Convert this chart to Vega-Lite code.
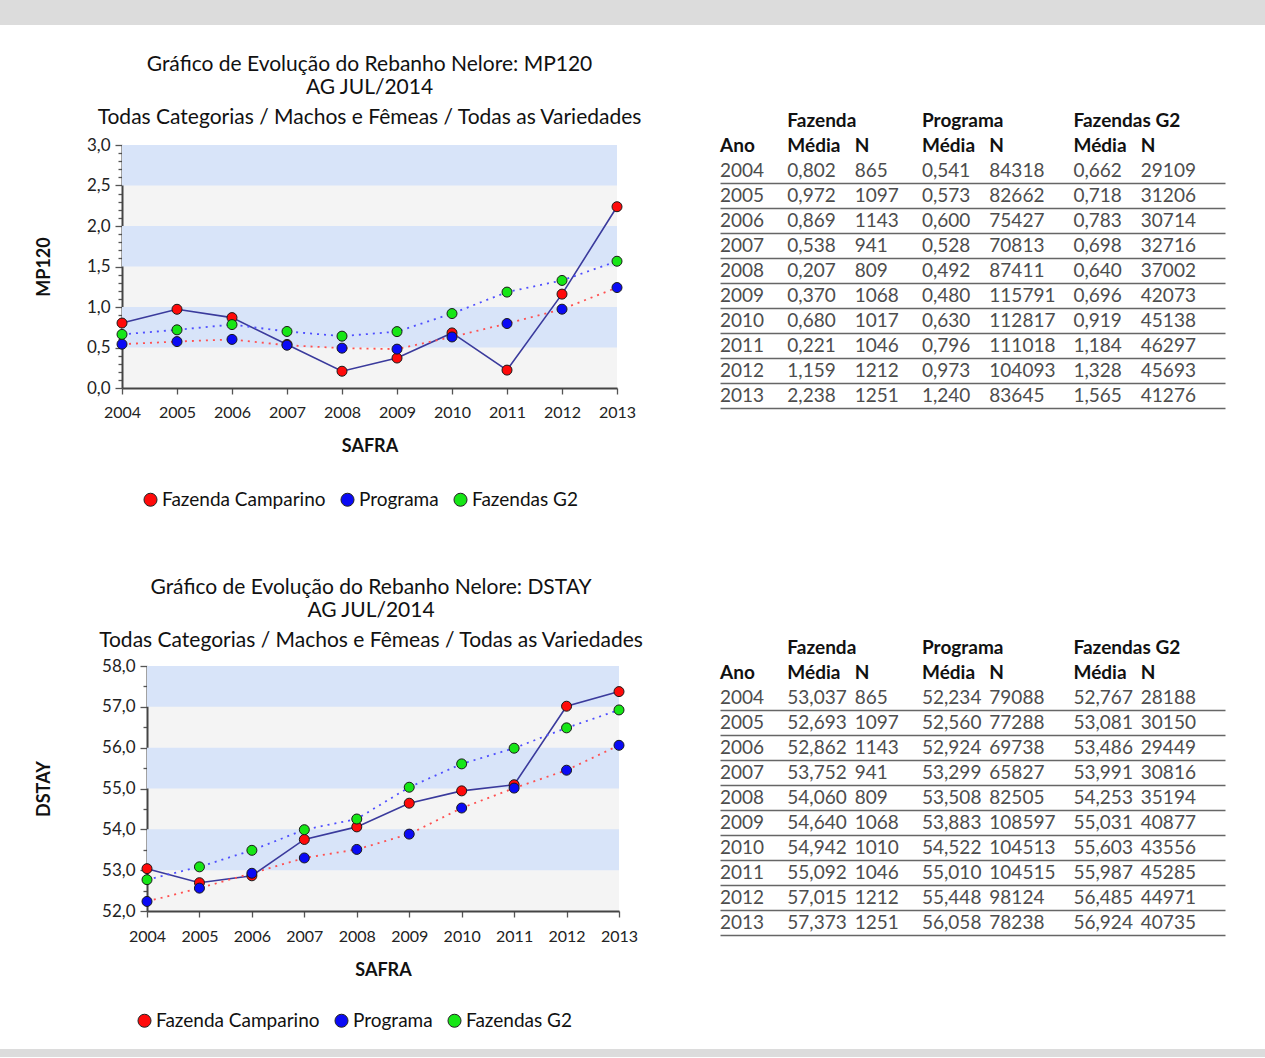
{
  "$schema": "https://vega.github.io/schema/vega-lite/v6.json",
  "padding": 0,
  "background": "white",
  "config": {
    "locale": {"number": {"decimal": ",", "thousands": ".", "grouping": [3], "currency": ["R$ ", ""]}},
    "font": "Lato",
    "view": {"stroke": null}
  },
  "datasets": {
    "mp120": [
      {"ano": "2004", "serie": "Fazenda Camparino", "media": 0.802, "n": 865},
      {"ano": "2004", "serie": "Programa", "media": 0.541, "n": 84318},
      {"ano": "2004", "serie": "Fazendas G2", "media": 0.662, "n": 29109},
      {"ano": "2005", "serie": "Fazenda Camparino", "media": 0.972, "n": 1097},
      {"ano": "2005", "serie": "Programa", "media": 0.573, "n": 82662},
      {"ano": "2005", "serie": "Fazendas G2", "media": 0.718, "n": 31206},
      {"ano": "2006", "serie": "Fazenda Camparino", "media": 0.869, "n": 1143},
      {"ano": "2006", "serie": "Programa", "media": 0.600, "n": 75427},
      {"ano": "2006", "serie": "Fazendas G2", "media": 0.783, "n": 30714},
      {"ano": "2007", "serie": "Fazenda Camparino", "media": 0.538, "n": 941},
      {"ano": "2007", "serie": "Programa", "media": 0.528, "n": 70813},
      {"ano": "2007", "serie": "Fazendas G2", "media": 0.698, "n": 32716},
      {"ano": "2008", "serie": "Fazenda Camparino", "media": 0.207, "n": 809},
      {"ano": "2008", "serie": "Programa", "media": 0.492, "n": 87411},
      {"ano": "2008", "serie": "Fazendas G2", "media": 0.640, "n": 37002},
      {"ano": "2009", "serie": "Fazenda Camparino", "media": 0.370, "n": 1068},
      {"ano": "2009", "serie": "Programa", "media": 0.480, "n": 115791},
      {"ano": "2009", "serie": "Fazendas G2", "media": 0.696, "n": 42073},
      {"ano": "2010", "serie": "Fazenda Camparino", "media": 0.680, "n": 1017},
      {"ano": "2010", "serie": "Programa", "media": 0.630, "n": 112817},
      {"ano": "2010", "serie": "Fazendas G2", "media": 0.919, "n": 45138},
      {"ano": "2011", "serie": "Fazenda Camparino", "media": 0.221, "n": 1046},
      {"ano": "2011", "serie": "Programa", "media": 0.796, "n": 111018},
      {"ano": "2011", "serie": "Fazendas G2", "media": 1.184, "n": 46297},
      {"ano": "2012", "serie": "Fazenda Camparino", "media": 1.159, "n": 1212},
      {"ano": "2012", "serie": "Programa", "media": 0.973, "n": 104093},
      {"ano": "2012", "serie": "Fazendas G2", "media": 1.328, "n": 45693},
      {"ano": "2013", "serie": "Fazenda Camparino", "media": 2.238, "n": 1251},
      {"ano": "2013", "serie": "Programa", "media": 1.240, "n": 83645},
      {"ano": "2013", "serie": "Fazendas G2", "media": 1.565, "n": 41276}
    ],
    "dstay": [
      {"ano": "2004", "serie": "Fazenda Camparino", "media": 53.037, "n": 865},
      {"ano": "2004", "serie": "Programa", "media": 52.234, "n": 79088},
      {"ano": "2004", "serie": "Fazendas G2", "media": 52.767, "n": 28188},
      {"ano": "2005", "serie": "Fazenda Camparino", "media": 52.693, "n": 1097},
      {"ano": "2005", "serie": "Programa", "media": 52.560, "n": 77288},
      {"ano": "2005", "serie": "Fazendas G2", "media": 53.081, "n": 30150},
      {"ano": "2006", "serie": "Fazenda Camparino", "media": 52.862, "n": 1143},
      {"ano": "2006", "serie": "Programa", "media": 52.924, "n": 69738},
      {"ano": "2006", "serie": "Fazendas G2", "media": 53.486, "n": 29449},
      {"ano": "2007", "serie": "Fazenda Camparino", "media": 53.752, "n": 941},
      {"ano": "2007", "serie": "Programa", "media": 53.299, "n": 65827},
      {"ano": "2007", "serie": "Fazendas G2", "media": 53.991, "n": 30816},
      {"ano": "2008", "serie": "Fazenda Camparino", "media": 54.060, "n": 809},
      {"ano": "2008", "serie": "Programa", "media": 53.508, "n": 82505},
      {"ano": "2008", "serie": "Fazendas G2", "media": 54.253, "n": 35194},
      {"ano": "2009", "serie": "Fazenda Camparino", "media": 54.640, "n": 1068},
      {"ano": "2009", "serie": "Programa", "media": 53.883, "n": 108597},
      {"ano": "2009", "serie": "Fazendas G2", "media": 55.031, "n": 40877},
      {"ano": "2010", "serie": "Fazenda Camparino", "media": 54.942, "n": 1010},
      {"ano": "2010", "serie": "Programa", "media": 54.522, "n": 104513},
      {"ano": "2010", "serie": "Fazendas G2", "media": 55.603, "n": 43556},
      {"ano": "2011", "serie": "Fazenda Camparino", "media": 55.092, "n": 1046},
      {"ano": "2011", "serie": "Programa", "media": 55.010, "n": 104515},
      {"ano": "2011", "serie": "Fazendas G2", "media": 55.987, "n": 45285},
      {"ano": "2012", "serie": "Fazenda Camparino", "media": 57.015, "n": 1212},
      {"ano": "2012", "serie": "Programa", "media": 55.448, "n": 98124},
      {"ano": "2012", "serie": "Fazendas G2", "media": 56.485, "n": 44971},
      {"ano": "2013", "serie": "Fazenda Camparino", "media": 57.373, "n": 1251},
      {"ano": "2013", "serie": "Programa", "media": 56.058, "n": 78238},
      {"ano": "2013", "serie": "Fazendas G2", "media": 56.924, "n": 40735}
    ],
    "bands_mp120": [{"lo": 0.5, "hi": 1.0}, {"lo": 1.5, "hi": 2.0}, {"lo": 2.5, "hi": 3.0}],
    "bands_dstay": [{"lo": 53, "hi": 54}, {"lo": 55, "hi": 56}, {"lo": 57, "hi": 58}],
    "hdr": [
      {"linha": "h1", "col": "fm", "label": "Fazenda"},
      {"linha": "h1", "col": "pm", "label": "Programa"},
      {"linha": "h1", "col": "gm", "label": "Fazendas G2"},
      {"linha": "h2", "col": "ano", "label": "Ano"},
      {"linha": "h2", "col": "fm", "label": "Média"},
      {"linha": "h2", "col": "fn", "label": "N"},
      {"linha": "h2", "col": "pm", "label": "Média"},
      {"linha": "h2", "col": "pn", "label": "N"},
      {"linha": "h2", "col": "gm", "label": "Média"},
      {"linha": "h2", "col": "gn", "label": "N"}
    ]
  },
  "resolve": {"scale": {"fill": "independent"}, "legend": {"fill": "independent"}},
  "spacing": 29,
  "vconcat": [
    {"width": 1265, "height": 25, "data": {"values": []}, "mark": "point", "view": {"fill": "#dcdcdc", "stroke": null}},
    {
      "spacing": 18,
      "resolve": {"scale": {"fill": "independent"}, "legend": {"fill": "independent"}},
      "vconcat": [
        {
          "spacing": 67,
          "resolve": {"scale": {"fill": "independent"}, "legend": {"fill": "independent"}},
          "vconcat": [
            {
              "spacing": 0,
              "resolve": {"scale": {"fill": "independent"}, "legend": {"fill": "independent"}},
              "hconcat": [
                {"width": 35, "height": 5, "data": {"values": []}, "mark": "point"},
                {
                  "spacing": 77,
                  "resolve": {"scale": {"fill": "independent"}, "legend": {"fill": "independent"}},
                  "hconcat": [
                    {
                      "width": 495,
                      "height": 243,
                      "view": {"fill": "#f4f4f4", "stroke": null},
                      "title": {
                        "text": ["Gráfico de Evolução do Rebanho Nelore: MP120", "AG JUL/2014"],
                        "subtitle": "Todas Categorias / Machos e Fêmeas / Todas as Variedades",
                        "anchor": "middle", "frame": "group",
                        "font": "Lato", "fontSize": 21, "fontWeight": "normal", "color": "#111", "lineHeight": 23,
                        "subtitleFont": "Lato", "subtitleFontSize": 21, "subtitleColor": "#111", "subtitlePadding": 9,
                        "offset": 8
                      },
                      "layer": [
                        {
                          "data": {"name": "bands_mp120"},
                          "mark": {"type": "rect", "color": "#d8e4f9"},
                          "encoding": {
                            "y": {
                              "field": "lo", "type": "quantitative", "title": "MP120",
                              "scale": {"domain": [0, 3], "nice": false, "zero": false},
                              "axis": {
                                "values": [0,0.1,0.2,0.3,0.4,0.5,0.6,0.7,0.8,0.9,1,1.1,1.2,1.3,1.4,1.5,1.6,1.7,1.8,1.9,2,2.1,2.2,2.3,2.4,2.5,2.6,2.7,2.8,2.9,3],
                                "tickCount": 100,
                                "format": ".1f",
                                "labelExpr": "abs(datum.value*2 - round(datum.value*2)) < 0.001 ? datum.label : ''",
                                "tickSize": {"condition": {"test": "abs(datum.value*2 - round(datum.value*2)) < 0.001", "value": 7}, "value": 4},
                                "labelOverlap": false, "grid": false,
                                "domainColor": "#444", "domainWidth": 2, "tickColor": "#555", "tickWidth": 1.3,
                                "labelFont": "Lato", "labelFontSize": 17, "labelColor": "#222", "labelPadding": 5,
                                "titleFont": "Lato", "titleFontSize": 18, "titleFontWeight": "bold", "titleColor": "#111", "titlePadding": 33
                              }
                            },
                            "y2": {"field": "hi"}
                          }
                        },
                        {
                          "data": {"name": "mp120"},
                          "transform": [{"filter": "datum.serie === 'Fazenda Camparino'"}],
                          "mark": {"type": "line", "stroke": "#3a3a9c", "strokeWidth": 1.6},
                          "encoding": {
                            "x": {
                              "field": "ano", "type": "ordinal", "title": "SAFRA",
                              "scale": {"type": "point", "padding": 0},
                              "axis": {
                                "labelAngle": 0, "domainColor": "#444", "domainWidth": 2, "tickColor": "#555", "tickWidth": 1.3, "tickSize": 6,
                                "labelFont": "Lato", "labelFontSize": 16, "labelColor": "#222", "labelPadding": 10,
                                "titleFont": "Lato", "titleFontSize": 18, "titleFontWeight": "bold", "titleColor": "#111", "titlePadding": 17
                              }
                            },
                            "y": {"field": "media", "type": "quantitative", "title": "MP120", "scale": {"domain": [0, 3], "nice": false, "zero": false}}
                          }
                        },
                        {
                          "data": {"name": "mp120"},
                          "transform": [{"filter": "datum.serie === 'Programa'"}],
                          "mark": {"type": "line", "stroke": "#ff5050", "strokeWidth": 1.8, "strokeDash": [2, 5]},
                          "encoding": {
                            "x": {"field": "ano", "type": "ordinal", "title": "SAFRA", "scale": {"type": "point", "padding": 0}},
                            "y": {"field": "media", "type": "quantitative", "title": "MP120", "scale": {"domain": [0, 3], "nice": false, "zero": false}}
                          }
                        },
                        {
                          "data": {"name": "mp120"},
                          "transform": [{"filter": "datum.serie === 'Fazendas G2'"}],
                          "mark": {"type": "line", "stroke": "#4f4fff", "strokeWidth": 1.8, "strokeDash": [2, 5]},
                          "encoding": {
                            "x": {"field": "ano", "type": "ordinal", "title": "SAFRA", "scale": {"type": "point", "padding": 0}},
                            "y": {"field": "media", "type": "quantitative", "title": "MP120", "scale": {"domain": [0, 3], "nice": false, "zero": false}}
                          }
                        },
                        {
                          "data": {"name": "mp120"},
                          "mark": {"type": "point", "filled": true, "size": 100, "opacity": 1, "stroke": "#1a1a1a", "strokeWidth": 1},
                          "encoding": {
                            "x": {"field": "ano", "type": "ordinal", "title": "SAFRA", "scale": {"type": "point", "padding": 0}},
                            "y": {"field": "media", "type": "quantitative", "title": "MP120", "scale": {"domain": [0, 3], "nice": false, "zero": false}},
                            "fill": {
                              "field": "serie", "type": "nominal",
                              "scale": {"domain": ["Fazenda Camparino", "Programa", "Fazendas G2"], "range": ["#ff0a0a", "#0a0af5", "#16e616"]},
                              "legend": {
                                "orient": "none", "legendX": 19, "legendY": 345, "direction": "horizontal", "title": null, "padding": 0,
                                "labelFont": "Lato", "labelFontSize": 19, "labelColor": "#111", "labelLimit": 400,
                                "symbolType": "circle", "symbolSize": 170, "symbolStrokeColor": "#222", "symbolStrokeWidth": 1, "symbolOpacity": 1,
                                "labelOffset": 2, "columnPadding": 12
                              }
                            }
                          }
                        }
                      ]
                    },
                    {
                      "width": 505,
                      "height": 277,
                      "data": {"name": "mp120"},
                      "encoding": {
                        "y": {
                          "field": "ano", "type": "ordinal",
                          "scale": {"type": "band", "domain": ["2004", "2005", "2006", "2007", "2008", "2009", "2010", "2011", "2012", "2013"], "paddingInner": 0, "paddingOuter": 0.54},
                          "axis": {"grid": true, "bandPosition": 1, "labels": false, "ticks": false, "domain": false, "title": null, "gridColor": "#666", "gridWidth": 1.3}
                        }
                      },
                      "layer": [
                        {
                          "transform": [{"filter": "datum.serie === 'Fazenda Camparino'"}],
                          "mark": {"type": "text", "align": "left", "baseline": "middle", "font": "Lato", "fontSize": 19, "color": "#4d4d4d"},
                          "encoding": {
                            "x": {"datum": "ano", "type": "nominal", "axis": null, "scale": {"type": "point", "padding": 0, "domain": ["ano","1","2","3","fm","5","6","7","fn","9","10","11","pm","13","14","15","pn","17","18","19","20","gm","22","23","24","gn","26","27","28","29","30"]}},
                            "text": {"field": "ano", "type": "nominal"}
                          }
                        },
                        {
                          "transform": [{"filter": "datum.serie === 'Fazenda Camparino'"}],
                          "mark": {"type": "text", "align": "left", "baseline": "middle", "font": "Lato", "fontSize": 19, "color": "#4d4d4d"},
                          "encoding": {
                            "x": {"datum": "fm", "type": "nominal", "axis": null, "scale": {"type": "point", "padding": 0, "domain": ["ano","1","2","3","fm","5","6","7","fn","9","10","11","pm","13","14","15","pn","17","18","19","20","gm","22","23","24","gn","26","27","28","29","30"]}},
                            "text": {"field": "media", "type": "quantitative", "format": ".3f"}
                          }
                        },
                        {
                          "transform": [{"filter": "datum.serie === 'Fazenda Camparino'"}],
                          "mark": {"type": "text", "align": "left", "baseline": "middle", "font": "Lato", "fontSize": 19, "color": "#4d4d4d"},
                          "encoding": {
                            "x": {"datum": "fn", "type": "nominal", "axis": null, "scale": {"type": "point", "padding": 0, "domain": ["ano","1","2","3","fm","5","6","7","fn","9","10","11","pm","13","14","15","pn","17","18","19","20","gm","22","23","24","gn","26","27","28","29","30"]}},
                            "text": {"field": "n", "type": "quantitative", "format": "d"}
                          }
                        },
                        {
                          "transform": [{"filter": "datum.serie === 'Programa'"}],
                          "mark": {"type": "text", "align": "left", "baseline": "middle", "font": "Lato", "fontSize": 19, "color": "#4d4d4d"},
                          "encoding": {
                            "x": {"datum": "pm", "type": "nominal", "axis": null, "scale": {"type": "point", "padding": 0, "domain": ["ano","1","2","3","fm","5","6","7","fn","9","10","11","pm","13","14","15","pn","17","18","19","20","gm","22","23","24","gn","26","27","28","29","30"]}},
                            "text": {"field": "media", "type": "quantitative", "format": ".3f"}
                          }
                        },
                        {
                          "transform": [{"filter": "datum.serie === 'Programa'"}],
                          "mark": {"type": "text", "align": "left", "baseline": "middle", "font": "Lato", "fontSize": 19, "color": "#4d4d4d"},
                          "encoding": {
                            "x": {"datum": "pn", "type": "nominal", "axis": null, "scale": {"type": "point", "padding": 0, "domain": ["ano","1","2","3","fm","5","6","7","fn","9","10","11","pm","13","14","15","pn","17","18","19","20","gm","22","23","24","gn","26","27","28","29","30"]}},
                            "text": {"field": "n", "type": "quantitative", "format": "d"}
                          }
                        },
                        {
                          "transform": [{"filter": "datum.serie === 'Fazendas G2'"}],
                          "mark": {"type": "text", "align": "left", "baseline": "middle", "font": "Lato", "fontSize": 19, "color": "#4d4d4d"},
                          "encoding": {
                            "x": {"datum": "gm", "type": "nominal", "axis": null, "scale": {"type": "point", "padding": 0, "domain": ["ano","1","2","3","fm","5","6","7","fn","9","10","11","pm","13","14","15","pn","17","18","19","20","gm","22","23","24","gn","26","27","28","29","30"]}},
                            "text": {"field": "media", "type": "quantitative", "format": ".3f"}
                          }
                        },
                        {
                          "transform": [{"filter": "datum.serie === 'Fazendas G2'"}],
                          "mark": {"type": "text", "align": "left", "baseline": "middle", "font": "Lato", "fontSize": 19, "color": "#4d4d4d"},
                          "encoding": {
                            "x": {"datum": "gn", "type": "nominal", "axis": null, "scale": {"type": "point", "padding": 0, "domain": ["ano","1","2","3","fm","5","6","7","fn","9","10","11","pm","13","14","15","pn","17","18","19","20","gm","22","23","24","gn","26","27","28","29","30"]}},
                            "text": {"field": "n", "type": "quantitative", "format": "d"}
                          }
                        },
                        {
                          "data": {"name": "hdr"},
                          "transform": [{"filter": "datum.linha === 'h1'"}],
                          "mark": {"type": "text", "align": "left", "baseline": "middle", "font": "Lato", "fontSize": 19, "fontWeight": "bold", "color": "#111", "dy": -50},
                          "encoding": {
                            "x": {"field": "col", "type": "nominal", "axis": null, "scale": {"type": "point", "padding": 0, "domain": ["ano","1","2","3","fm","5","6","7","fn","9","10","11","pm","13","14","15","pn","17","18","19","20","gm","22","23","24","gn","26","27","28","29","30"]}},
                            "y": {"datum": "2004", "type": "ordinal", "scale": {"type": "band", "domain": ["2004", "2005", "2006", "2007", "2008", "2009", "2010", "2011", "2012", "2013"], "paddingInner": 0, "paddingOuter": 0.54}, "axis": {"grid": true, "bandPosition": 1, "labels": false, "ticks": false, "domain": false, "title": null, "gridColor": "#666", "gridWidth": 1.3}},
                            "text": {"field": "label", "type": "nominal"}
                          }
                        },
                        {
                          "data": {"name": "hdr"},
                          "transform": [{"filter": "datum.linha === 'h2'"}],
                          "mark": {"type": "text", "align": "left", "baseline": "middle", "font": "Lato", "fontSize": 19, "fontWeight": "bold", "color": "#111", "dy": -25},
                          "encoding": {
                            "x": {"field": "col", "type": "nominal", "axis": null, "scale": {"type": "point", "padding": 0, "domain": ["ano","1","2","3","fm","5","6","7","fn","9","10","11","pm","13","14","15","pn","17","18","19","20","gm","22","23","24","gn","26","27","28","29","30"]}},
                            "y": {"datum": "2004", "type": "ordinal", "scale": {"type": "band", "domain": ["2004", "2005", "2006", "2007", "2008", "2009", "2010", "2011", "2012", "2013"], "paddingInner": 0, "paddingOuter": 0.54}, "axis": {"grid": true, "bandPosition": 1, "labels": false, "ticks": false, "domain": false, "title": null, "gridColor": "#666", "gridWidth": 1.3}},
                            "text": {"field": "label", "type": "nominal"}
                          }
                        }
                      ]
                    }
                  ]
                }
              ]
            },
            {
              "spacing": 0,
              "resolve": {"scale": {"fill": "independent"}, "legend": {"fill": "independent"}},
              "hconcat": [
                {"width": 35, "height": 5, "data": {"values": []}, "mark": "point"},
                {
                  "spacing": 76,
                  "resolve": {"scale": {"fill": "independent"}, "legend": {"fill": "independent"}},
                  "hconcat": [
                    {
                      "width": 472,
                      "height": 245,
                      "view": {"fill": "#f4f4f4", "stroke": null},
                      "title": {
                        "text": ["Gráfico de Evolução do Rebanho Nelore: DSTAY", "AG JUL/2014"],
                        "subtitle": "Todas Categorias / Machos e Fêmeas / Todas as Variedades",
                        "anchor": "middle", "frame": "group", "dx": -12,
                        "font": "Lato", "fontSize": 21, "fontWeight": "normal", "color": "#111", "lineHeight": 23,
                        "subtitleFont": "Lato", "subtitleFontSize": 21, "subtitleColor": "#111", "subtitlePadding": 9,
                        "offset": 6
                      },
                      "layer": [
                        {
                          "data": {"name": "bands_dstay"},
                          "mark": {"type": "rect", "color": "#d8e4f9"},
                          "encoding": {
                            "y": {
                              "field": "lo", "type": "quantitative", "title": "DSTAY",
                              "scale": {"domain": [52, 58], "nice": false, "zero": false},
                              "axis": {
                                "values": [52,52.5,53,53.5,54,54.5,55,55.5,56,56.5,57,57.5,58],
                                "tickCount": 100,
                                "format": ".1f",
                                "labelExpr": "abs(datum.value - round(datum.value)) < 0.001 ? datum.label : ''",
                                "tickSize": {"condition": {"test": "abs(datum.value - round(datum.value)) < 0.001", "value": 7}, "value": 4},
                                "labelOverlap": false, "grid": false,
                                "domainColor": "#444", "domainWidth": 2, "tickColor": "#555", "tickWidth": 1.3,
                                "labelFont": "Lato", "labelFontSize": 17, "labelColor": "#222", "labelPadding": 5,
                                "titleFont": "Lato", "titleFontSize": 18, "titleFontWeight": "bold", "titleColor": "#111", "titlePadding": 48
                              }
                            },
                            "y2": {"field": "hi"}
                          }
                        },
                        {
                          "data": {"name": "dstay"},
                          "transform": [{"filter": "datum.serie === 'Fazenda Camparino'"}],
                          "mark": {"type": "line", "stroke": "#3a3a9c", "strokeWidth": 1.6},
                          "encoding": {
                            "x": {
                              "field": "ano", "type": "ordinal", "title": "SAFRA",
                              "scale": {"type": "point", "padding": 0},
                              "axis": {
                                "labelAngle": 0, "domainColor": "#444", "domainWidth": 2, "tickColor": "#555", "tickWidth": 1.3, "tickSize": 6,
                                "labelFont": "Lato", "labelFontSize": 16, "labelColor": "#222", "labelPadding": 11,
                                "titleFont": "Lato", "titleFontSize": 18, "titleFontWeight": "bold", "titleColor": "#111", "titlePadding": 17
                              }
                            },
                            "y": {"field": "media", "type": "quantitative", "title": "DSTAY", "scale": {"domain": [52, 58], "nice": false, "zero": false}}
                          }
                        },
                        {
                          "data": {"name": "dstay"},
                          "transform": [{"filter": "datum.serie === 'Programa'"}],
                          "mark": {"type": "line", "stroke": "#ff5050", "strokeWidth": 1.8, "strokeDash": [2, 5]},
                          "encoding": {
                            "x": {"field": "ano", "type": "ordinal", "title": "SAFRA", "scale": {"type": "point", "padding": 0}},
                            "y": {"field": "media", "type": "quantitative", "title": "DSTAY", "scale": {"domain": [52, 58], "nice": false, "zero": false}}
                          }
                        },
                        {
                          "data": {"name": "dstay"},
                          "transform": [{"filter": "datum.serie === 'Fazendas G2'"}],
                          "mark": {"type": "line", "stroke": "#4f4fff", "strokeWidth": 1.8, "strokeDash": [2, 5]},
                          "encoding": {
                            "x": {"field": "ano", "type": "ordinal", "title": "SAFRA", "scale": {"type": "point", "padding": 0}},
                            "y": {"field": "media", "type": "quantitative", "title": "DSTAY", "scale": {"domain": [52, 58], "nice": false, "zero": false}}
                          }
                        },
                        {
                          "data": {"name": "dstay"},
                          "mark": {"type": "point", "filled": true, "size": 100, "opacity": 1, "stroke": "#1a1a1a", "strokeWidth": 1},
                          "encoding": {
                            "x": {"field": "ano", "type": "ordinal", "title": "SAFRA", "scale": {"type": "point", "padding": 0}},
                            "y": {"field": "media", "type": "quantitative", "title": "DSTAY", "scale": {"domain": [52, 58], "nice": false, "zero": false}},
                            "fill": {
                              "field": "serie", "type": "nominal",
                              "scale": {"domain": ["Fazenda Camparino", "Programa", "Fazendas G2"], "range": ["#ff0a0a", "#0a0af5", "#16e616"]},
                              "legend": {
                                "orient": "none", "legendX": -12, "legendY": 345, "direction": "horizontal", "title": null, "padding": 0,
                                "labelFont": "Lato", "labelFontSize": 19, "labelColor": "#111", "labelLimit": 400,
                                "symbolType": "circle", "symbolSize": 170, "symbolStrokeColor": "#222", "symbolStrokeWidth": 1, "symbolOpacity": 1,
                                "labelOffset": 2, "columnPadding": 12
                              }
                            }
                          }
                        }
                      ]
                    },
                    {
                      "width": 505,
                      "height": 289,
                      "data": {"name": "dstay"},
                      "encoding": {
                        "y": {
                          "field": "ano", "type": "ordinal",
                          "scale": {"type": "band", "domain": ["2004", "2005", "2006", "2007", "2008", "2009", "2010", "2011", "2012", "2013"], "paddingInner": 0, "paddingOuter": 0.78},
                          "axis": {"grid": true, "bandPosition": 1, "labels": false, "ticks": false, "domain": false, "title": null, "gridColor": "#666", "gridWidth": 1.3}
                        }
                      },
                      "layer": [
                        {
                          "transform": [{"filter": "datum.serie === 'Fazenda Camparino'"}],
                          "mark": {"type": "text", "align": "left", "baseline": "middle", "font": "Lato", "fontSize": 19, "color": "#4d4d4d"},
                          "encoding": {
                            "x": {"datum": "ano", "type": "nominal", "axis": null, "scale": {"type": "point", "padding": 0, "domain": ["ano","1","2","3","fm","5","6","7","fn","9","10","11","pm","13","14","15","pn","17","18","19","20","gm","22","23","24","gn","26","27","28","29","30"]}},
                            "text": {"field": "ano", "type": "nominal"}
                          }
                        },
                        {
                          "transform": [{"filter": "datum.serie === 'Fazenda Camparino'"}],
                          "mark": {"type": "text", "align": "left", "baseline": "middle", "font": "Lato", "fontSize": 19, "color": "#4d4d4d"},
                          "encoding": {
                            "x": {"datum": "fm", "type": "nominal", "axis": null, "scale": {"type": "point", "padding": 0, "domain": ["ano","1","2","3","fm","5","6","7","fn","9","10","11","pm","13","14","15","pn","17","18","19","20","gm","22","23","24","gn","26","27","28","29","30"]}},
                            "text": {"field": "media", "type": "quantitative", "format": ".3f"}
                          }
                        },
                        {
                          "transform": [{"filter": "datum.serie === 'Fazenda Camparino'"}],
                          "mark": {"type": "text", "align": "left", "baseline": "middle", "font": "Lato", "fontSize": 19, "color": "#4d4d4d"},
                          "encoding": {
                            "x": {"datum": "fn", "type": "nominal", "axis": null, "scale": {"type": "point", "padding": 0, "domain": ["ano","1","2","3","fm","5","6","7","fn","9","10","11","pm","13","14","15","pn","17","18","19","20","gm","22","23","24","gn","26","27","28","29","30"]}},
                            "text": {"field": "n", "type": "quantitative", "format": "d"}
                          }
                        },
                        {
                          "transform": [{"filter": "datum.serie === 'Programa'"}],
                          "mark": {"type": "text", "align": "left", "baseline": "middle", "font": "Lato", "fontSize": 19, "color": "#4d4d4d"},
                          "encoding": {
                            "x": {"datum": "pm", "type": "nominal", "axis": null, "scale": {"type": "point", "padding": 0, "domain": ["ano","1","2","3","fm","5","6","7","fn","9","10","11","pm","13","14","15","pn","17","18","19","20","gm","22","23","24","gn","26","27","28","29","30"]}},
                            "text": {"field": "media", "type": "quantitative", "format": ".3f"}
                          }
                        },
                        {
                          "transform": [{"filter": "datum.serie === 'Programa'"}],
                          "mark": {"type": "text", "align": "left", "baseline": "middle", "font": "Lato", "fontSize": 19, "color": "#4d4d4d"},
                          "encoding": {
                            "x": {"datum": "pn", "type": "nominal", "axis": null, "scale": {"type": "point", "padding": 0, "domain": ["ano","1","2","3","fm","5","6","7","fn","9","10","11","pm","13","14","15","pn","17","18","19","20","gm","22","23","24","gn","26","27","28","29","30"]}},
                            "text": {"field": "n", "type": "quantitative", "format": "d"}
                          }
                        },
                        {
                          "transform": [{"filter": "datum.serie === 'Fazendas G2'"}],
                          "mark": {"type": "text", "align": "left", "baseline": "middle", "font": "Lato", "fontSize": 19, "color": "#4d4d4d"},
                          "encoding": {
                            "x": {"datum": "gm", "type": "nominal", "axis": null, "scale": {"type": "point", "padding": 0, "domain": ["ano","1","2","3","fm","5","6","7","fn","9","10","11","pm","13","14","15","pn","17","18","19","20","gm","22","23","24","gn","26","27","28","29","30"]}},
                            "text": {"field": "media", "type": "quantitative", "format": ".3f"}
                          }
                        },
                        {
                          "transform": [{"filter": "datum.serie === 'Fazendas G2'"}],
                          "mark": {"type": "text", "align": "left", "baseline": "middle", "font": "Lato", "fontSize": 19, "color": "#4d4d4d"},
                          "encoding": {
                            "x": {"datum": "gn", "type": "nominal", "axis": null, "scale": {"type": "point", "padding": 0, "domain": ["ano","1","2","3","fm","5","6","7","fn","9","10","11","pm","13","14","15","pn","17","18","19","20","gm","22","23","24","gn","26","27","28","29","30"]}},
                            "text": {"field": "n", "type": "quantitative", "format": "d"}
                          }
                        },
                        {
                          "data": {"name": "hdr"},
                          "transform": [{"filter": "datum.linha === 'h1'"}],
                          "mark": {"type": "text", "align": "left", "baseline": "middle", "font": "Lato", "fontSize": 19, "fontWeight": "bold", "color": "#111", "dy": -50},
                          "encoding": {
                            "x": {"field": "col", "type": "nominal", "axis": null, "scale": {"type": "point", "padding": 0, "domain": ["ano","1","2","3","fm","5","6","7","fn","9","10","11","pm","13","14","15","pn","17","18","19","20","gm","22","23","24","gn","26","27","28","29","30"]}},
                            "y": {"datum": "2004", "type": "ordinal", "scale": {"type": "band", "domain": ["2004", "2005", "2006", "2007", "2008", "2009", "2010", "2011", "2012", "2013"], "paddingInner": 0, "paddingOuter": 0.78}, "axis": {"grid": true, "bandPosition": 1, "labels": false, "ticks": false, "domain": false, "title": null, "gridColor": "#666", "gridWidth": 1.3}},
                            "text": {"field": "label", "type": "nominal"}
                          }
                        },
                        {
                          "data": {"name": "hdr"},
                          "transform": [{"filter": "datum.linha === 'h2'"}],
                          "mark": {"type": "text", "align": "left", "baseline": "middle", "font": "Lato", "fontSize": 19, "fontWeight": "bold", "color": "#111", "dy": -25},
                          "encoding": {
                            "x": {"field": "col", "type": "nominal", "axis": null, "scale": {"type": "point", "padding": 0, "domain": ["ano","1","2","3","fm","5","6","7","fn","9","10","11","pm","13","14","15","pn","17","18","19","20","gm","22","23","24","gn","26","27","28","29","30"]}},
                            "y": {"datum": "2004", "type": "ordinal", "scale": {"type": "band", "domain": ["2004", "2005", "2006", "2007", "2008", "2009", "2010", "2011", "2012", "2013"], "paddingInner": 0, "paddingOuter": 0.78}, "axis": {"grid": true, "bandPosition": 1, "labels": false, "ticks": false, "domain": false, "title": null, "gridColor": "#666", "gridWidth": 1.3}},
                            "text": {"field": "label", "type": "nominal"}
                          }
                        }
                      ]
                    }
                  ]
                }
              ]
            }
          ]
        },
        {"width": 1265, "height": 8, "data": {"values": []}, "mark": "point", "view": {"fill": "#dcdcdc", "stroke": null}}
      ]
    }
  ]
}
